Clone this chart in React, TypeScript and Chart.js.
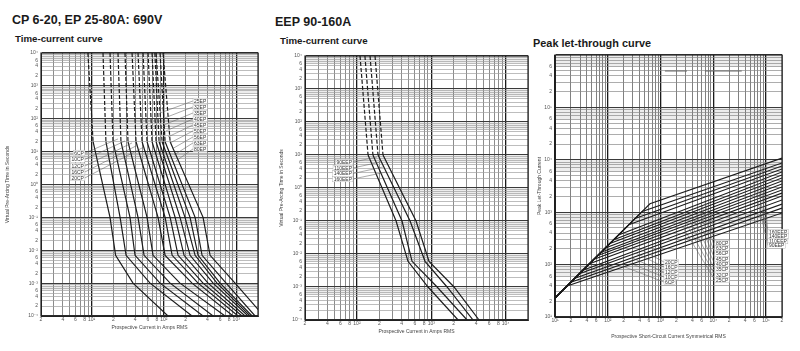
import React, { useEffect, useRef } from 'react';
import { Chart, registerables } from 'chart.js';

Chart.register(...registerables);

const FONT = "'Liberation Sans', Arial, Helvetica, sans-serif";

// ---------- Panel 1: CP 6-20, EP 25-80A time-current ----------
const P1_SERIES = ['6CP', '10CP', '12CP', '16CP', '20CP', '25EP', '32EP', '35EP', '40EP', '45EP', '50EP', '56EP', '63EP', '80EP'];
const P1_TIMES = [10000, 20, 0.1, 0.007, 0.001, 0.0001];
const P1_CURRENTS = [
  [8.9, 10.5, 18.0, 21.5, 37.4, 114],
  [14.4, 15.8, 24.8, 30.0, 64.4, 245],
  [18.0, 19.8, 34.0, 39.9, 88.5, 348],
  [23.2, 25.5, 43.9, 53.2, 122, 479],
  [29.0, 31.9, 58.5, 70.8, 167, 701],
  [36.3, 41.2, 83.0, 104, 245, 904],
  [43.9, 49.9, 104, 130, 297, 1061],
  [51.5, 58.5, 122, 157, 348, 1205],
  [60.4, 68.6, 143, 190, 408, 1327],
  [68.6, 78.0, 167, 230, 479, 1459],
  [75.0, 85.8, 196, 270, 543, 1556],
  [78.0, 94.4, 230, 297, 598, 1656],
  [88.5, 104, 270, 337, 724, 1824],
  [97.3, 122, 348, 435, 964, 2400],
];
const P1_CP_LABELS = ['6CP', '10CP', '12CP', '16CP', '20CP'];
const P1_CP_LABEL_AT: [number, number][] = [[8.1, 9.1], [8.1, 5.8], [8.1, 3.67], [8.1, 2.41], [8.1, 1.59]];
const P1_CP_LABEL_TO: [number, number][] = [[23.2, 24.3], [29.0, 21.1], [36.3, 18.4], [43.9, 16.0], [53.2, 13.9]];
const P1_EP_LABELS = ['25EP', '32EP', '35EP', '40EP', '45EP', '50EP', '56EP', '63EP', '80EP'];
const P1_EP_LABEL_AT: [number, number][] = [[253, 348], [253, 229], [253, 150], [253, 98.6], [253, 64.8], [253, 42.6], [253, 28.0], [253, 18.4], [253, 12.1]];
const P1_EP_LABEL_TO: [number, number][] = [[88.5, 150], [94.4, 98.6], [100.5, 64.8], [107, 42.6], [114, 28.0], [122, 18.4], [130, 12.1], [138.5, 7.94], [147, 5.22]];

// ---------- Panel 2: EEP 90-160A time-current ----------
const P2_SERIES = ['90EEP', '110EEP', '140EEP', '160EEP'];
const P2_TIMES = [10000, 10, 0.1, 0.006, 0.001, 0.0001];
const P2_CURRENTS = [
  [110, 141, 336, 486, 904, 2292],
  [128, 164, 404, 551, 1197, 3029],
  [150, 192, 518, 824, 1630, 3648],
  [175, 224, 624, 933, 2024, 4394],
];
const P2_LABELS = ['90EEP', '110EEP', '140EEP', '160EEP'];
const P2_LABEL_AT: [number, number][] = [[88.5, 6.1], [88.5, 4.04], [88.5, 2.75], [88.5, 1.87]];
const P2_LABEL_TO: [number, number][] = [[186, 8.7], [204, 6.1], [224, 4.33], [246, 3.05]];

// ---------- Panel 3: peak let-through ----------
const P3_SERIES = ['6CP', '10CP', '12CP', '16CP', '20CP', '25CP', '32CP', '35CP', '40CP', '45CP', '56CP', '63CP', '80CP', '90EEP', '110EEP', '140EEP', '160EEP'];
const P3_ORIGIN = [10, 23];
const P3_KNEE_CURRENT = [17, 20, 24, 29, 34, 45, 55, 65, 75, 90, 110, 130, 160, 250, 330, 450, 630];
const P3_KNEE_PEAK = [39, 46, 55, 67, 78, 104, 127, 150, 173, 207, 253, 299, 368, 575, 759, 1035, 1449];
const P3_END_CURRENT = 200000;
const P3_END_PEAK = [966, 1200, 1430, 1710, 2040, 2320, 2650, 3030, 3450, 3940, 4500, 5130, 5850, 6670, 7620, 8690, 10800];
const P3_MARK_CURRENTS = [1210, 3170, 6920, 34500];
const P3_MARK_PEAK = 495000;
const P3_CP_LABELS = ['20CP', '16CP', '12CP', '10CP', '6CP'];
const P3_CP_LABEL_AT: [number, number][] = [[1160, 112], [1160, 90], [1160, 72], [1160, 58], [1160, 46.6]];
const P3_CP_LABEL_TO_CURRENT = [407, 342, 287, 241, 203];
const P3_EP_LABELS = ['80CP', '63CP', '56CP', '45CP', '40CP', '35CP', '32CP', '25CP'];
const P3_EP_LABEL_AT: [number, number][] = [[10700, 258], [10700, 205], [10700, 162], [10700, 128], [10700, 102], [10700, 80.6], [10700, 63.8], [10700, 50.8]];
const P3_EP_LABEL_TO_CURRENT = [6930, 6080, 5330, 4680, 4110, 3600, 3160, 2770];
const P3_EEP_LABELS = ['160EEP', '140EEP', '110EEP', '90EEP'];
const P3_EEP_LABEL_AT: [number, number][] = [[108000, 419], [108000, 344], [108000, 282], [108000, 232]];
const P3_EEP_LABEL_TO_CURRENT = [83200, 73100, 64100, 56200];

// tick label mantissas
const TC_X_MANTISSAS = [2, 4, 6, 8];
const TC_Y_MANTISSAS = [2, 4, 6];
const PL_X_MANTISSAS = [2, 4, 6];
const PL_Y_MANTISSAS = [2, 4, 6];

const SUP: Record<string, string> = { '0': '⁰', '1': '¹', '2': '²', '3': '³', '4': '⁴', '5': '⁵', '6': '⁶', '7': '⁷', '8': '⁸', '9': '⁹', '-': '⁻' };
const sup = (n: number) => String(n).split('').map((c) => SUP[c] || c).join('');
const clean = (v: number) => parseFloat(v.toPrecision(10));

function logTicks(min: number, max: number): number[] {
  const out: number[] = [];
  for (let e = Math.floor(Math.log10(min)); e <= Math.ceil(Math.log10(max)); e++) {
    for (let m = 1; m <= 9; m++) {
      const v = clean(m * Math.pow(10, e));
      if (v >= min * 0.999999 && v <= max * 1.000001) out.push(v);
    }
  }
  return out;
}
const isDecade = (v: number) => {
  const l = Math.log10(v);
  return Math.abs(l - Math.round(l)) < 1e-6;
};

interface AxisSpec {
  min: number;
  max: number;
  mantissas: number[];
  hideMax: boolean;
  size: number;
  title: string;
  titlePad: { top: number; bottom: number };
  tickPad: number;
  minorColor: string;
  minorWidth: number;
  majorColor: string;
  majorWidth: number;
}

function makeAxis(spec: AxisSpec, horizontal: boolean): any {
  return {
    type: 'logarithmic',
    min: spec.min,
    max: spec.max,
    afterBuildTicks: (s: any) => {
      s.ticks = logTicks(spec.min, spec.max).map((v) => ({ value: v }));
    },
    afterFit: (s: any) => {
      if (horizontal) s.height = spec.size;
      else s.width = spec.size;
    },
    ticks: {
      autoSkip: false,
      maxRotation: 0,
      minRotation: 0,
      padding: spec.tickPad,
      font: { family: FONT, size: 5 },
      color: '#555',
      callback: (v: any) => {
        const val = Number(v);
        if (spec.hideMax && Math.abs(val - spec.max) / spec.max < 1e-6) return '';
        const e = Math.floor(Math.log10(val) + 1e-9);
        const m = Math.round(val / Math.pow(10, e));
        if (m === 1) return '10' + sup(e);
        return spec.mantissas.includes(m) ? String(m) : '';
      },
    },
    grid: {
      drawTicks: false,
      color: (c: any) => (c.tick && isDecade(c.tick.value) ? spec.majorColor : spec.minorColor),
      lineWidth: (c: any) => (c.tick && isDecade(c.tick.value) ? spec.majorWidth : spec.minorWidth),
    },
    border: { display: true, color: '#222', width: 1 },
    title: {
      display: true,
      text: spec.title,
      font: { family: FONT, size: 5 },
      color: '#444',
      padding: spec.titlePad,
    },
  };
}

interface LabelGroup {
  texts: string[];
  at: [number, number][];
  to: [number, number][];
  align: 'left' | 'right';
}

function makePlugins(groups: LabelGroup[], bandScale: 'y' | null) {
  const frame = {
    id: 'frame',
    beforeDatasetsDraw(chart: any) {
      const { ctx, chartArea: a } = chart;
      ctx.save();
      ctx.strokeStyle = '#222';
      ctx.lineWidth = 1.2;
      ctx.strokeRect(a.left, a.top, a.right - a.left, a.bottom - a.top);
      ctx.restore();
    },
    beforeDraw(chart: any) {
      // light grey shading just below each horizontal decade line
      if (!bandScale) return;
      const { ctx, chartArea: a, scales } = chart;
      const ys = scales.y;
      ctx.save();
      ctx.fillStyle = 'rgba(0,0,0,0.07)';
      for (const t of ys.ticks) {
        if (!isDecade(t.value)) continue;
        const top = ys.getPixelForValue(t.value);
        const bottom = ys.getPixelForValue(t.value * 0.6);
        if (bottom > a.bottom + 0.5) continue;
        ctx.fillRect(a.left, top, a.right - a.left, bottom - top);
      }
      ctx.restore();
    },
  };
  const leaders = {
    id: 'leaders',
    afterDatasetsDraw(chart: any) {
      const { ctx, scales } = chart;
      const xs = scales.x;
      const ys = scales.y;
      ctx.save();
      ctx.font = `5px ${FONT}`;
      ctx.textBaseline = 'middle';
      for (const g of groups) {
        g.texts.forEach((text, i) => {
          const ax = xs.getPixelForValue(g.at[i][0]);
          const ay = ys.getPixelForValue(g.at[i][1]);
          const tx = xs.getPixelForValue(g.to[i][0]);
          const ty = ys.getPixelForValue(g.to[i][1]);
          ctx.strokeStyle = '#555';
          ctx.lineWidth = 0.5;
          ctx.beginPath();
          ctx.moveTo(ax, ay);
          ctx.lineTo(tx, ty);
          ctx.stroke();
        });
        g.texts.forEach((text, i) => {
          const ax = xs.getPixelForValue(g.at[i][0]);
          const ay = ys.getPixelForValue(g.at[i][1]);
          const w = ctx.measureText(text).width + 2;
          const bx = g.align === 'right' ? ax - w : ax;
          ctx.fillStyle = '#fff';
          ctx.fillRect(bx, ay - 2.8, w, 5.6);
          ctx.strokeStyle = '#aaa';
          ctx.lineWidth = 0.4;
          ctx.strokeRect(bx, ay - 2.8, w, 5.6);
          ctx.fillStyle = '#333';
          ctx.textAlign = 'left';
          ctx.fillText(text, bx + 1, ay + 0.3);
        });
      }
      ctx.restore();
    },
  };
  return [frame, leaders];
}

function logInterp(points: { x: number; y: number }[], xv: number): number {
  for (let i = 0; i < points.length - 1; i++) {
    const p = points[i];
    const q = points[i + 1];
    if (xv >= p.x && xv <= q.x) {
      const f = (Math.log10(xv) - Math.log10(p.x)) / (Math.log10(q.x) - Math.log10(p.x));
      return Math.pow(10, Math.log10(p.y) + f * (Math.log10(q.y) - Math.log10(p.y)));
    }
  }
  return points[points.length - 1].y;
}

const CURVE_COLOR = '#1c1c1c';

function tcDatasets(names: string[], times: number[], currents: number[][]) {
  return names.map((name, i) => ({
    label: name,
    data: currents[i].map((c, j) => ({ x: c, y: times[j] })),
    borderColor: CURVE_COLOR,
    borderWidth: 1.2,
    pointRadius: 0,
    fill: false,
    tension: 0,
    segment: { borderDash: (c: any) => (c.p0DataIndex === 0 ? [4, 2] : undefined) },
  }));
}

const P3_CURVES = P3_SERIES.map((_, i) => [
  { x: P3_ORIGIN[0], y: P3_ORIGIN[1] },
  { x: P3_KNEE_CURRENT[i], y: P3_KNEE_PEAK[i] },
  { x: P3_END_CURRENT, y: P3_END_PEAK[i] },
]);

function tcAxes(xMin: number, xMax: number, ySize: number, xSize: number, yTitlePad: number, xTitlePad: number) {
  return {
    x: makeAxis(
      {
        min: xMin, max: xMax, mantissas: TC_X_MANTISSAS, hideMax: true, size: xSize,
        title: 'Prospective Current in Amps RMS', titlePad: { top: 0, bottom: xTitlePad }, tickPad: 1,
        minorColor: '#5a5a5a', minorWidth: 0.7, majorColor: '#1a1a1a', majorWidth: 1.3,
      },
      true
    ),
    y: makeAxis(
      {
        min: 0.0001, max: 10000, mantissas: TC_Y_MANTISSAS, hideMax: false, size: ySize,
        title: 'Virtual Pre-Arcing Time in Seconds', titlePad: { top: yTitlePad, bottom: 0 }, tickPad: 3,
        minorColor: '#a0a0a0', minorWidth: 0.7, majorColor: '#3a3a3a', majorWidth: 1.1,
      },
      false
    ),
  };
}

function baseOptions(padTop: number, padRight: number, scales: any) {
  return {
    animation: false,
    responsive: false,
    maintainAspectRatio: false,
    events: [],
    layout: { padding: { left: 0, top: padTop, right: padRight, bottom: 0 } },
    plugins: { legend: { display: false }, tooltip: { enabled: false }, title: { display: false } },
    scales,
  };
}

function useChart(ref: React.RefObject<HTMLCanvasElement>, build: () => any) {
  useEffect(() => {
    if (!ref.current) return;
    const chart = new Chart(ref.current, build());
    return () => chart.destroy();
  }, []);
}

function Panel1() {
  const ref = useRef<HTMLCanvasElement>(null);
  useChart(ref, () => ({
    type: 'line',
    data: { datasets: tcDatasets(P1_SERIES, P1_TIMES, P1_CURRENTS) },
    options: baseOptions(9, 10, tcAxes(2, 2000, 41, 28, 5, 13)),
    plugins: makePlugins(
      [
        { texts: P1_CP_LABELS, at: P1_CP_LABEL_AT, to: P1_CP_LABEL_TO, align: 'right' },
        { texts: P1_EP_LABELS, at: P1_EP_LABEL_AT, to: P1_EP_LABEL_TO, align: 'left' },
      ],
      'y'
    ),
  }));
  return <canvas ref={ref} width={268} height={300} style={{ width: 268, height: 300, display: 'block' }} />;
}

function Panel2() {
  const ref = useRef<HTMLCanvasElement>(null);
  useChart(ref, () => ({
    type: 'line',
    data: { datasets: tcDatasets(P2_SERIES, P2_TIMES, P2_CURRENTS) },
    options: baseOptions(12, 10, tcAxes(20, 20000, 33, 24, 7, 9)),
    plugins: makePlugins([{ texts: P2_LABELS, at: P2_LABEL_AT, to: P2_LABEL_TO, align: 'right' }], 'y'),
  }));
  return <canvas ref={ref} width={266} height={300} style={{ width: 266, height: 300, display: 'block' }} />;
}

function Panel3() {
  const ref = useRef<HTMLCanvasElement>(null);
  useChart(ref, () => {
    const target = (names: string[], currents: number[]): [number, number][] =>
      names.map((n, i) => {
        const idx = P3_SERIES.indexOf(n);
        return [currents[i], logInterp(P3_CURVES[idx], currents[i])];
      });
    const datasets: any[] = P3_SERIES.map((name, i) => ({
      label: name,
      data: P3_CURVES[i],
      borderColor: CURVE_COLOR,
      borderWidth: 1.1,
      pointRadius: 0,
      fill: false,
      tension: 0,
    }));
    datasets.push({
      label: 'marks',
      data: [
        { x: P3_MARK_CURRENTS[0], y: P3_MARK_PEAK },
        { x: P3_MARK_CURRENTS[1], y: P3_MARK_PEAK },
        { x: Math.sqrt(P3_MARK_CURRENTS[1] * P3_MARK_CURRENTS[2]), y: null },
        { x: P3_MARK_CURRENTS[2], y: P3_MARK_PEAK },
        { x: P3_MARK_CURRENTS[3], y: P3_MARK_PEAK },
      ],
      borderColor: '#666',
      borderWidth: 1,
      pointRadius: 0,
      fill: false,
      spanGaps: false,
    });
    return {
      type: 'line',
      data: { datasets },
      options: baseOptions(11, 18, {
        x: makeAxis(
          {
            min: 10, max: 200000, mantissas: PL_X_MANTISSAS, hideMax: false, size: 27,
            title: 'Prospective Short-Circuit Current Symmetrical RMS', titlePad: { top: 0, bottom: 4 }, tickPad: 1,
            minorColor: '#4a4a4a', minorWidth: 0.7, majorColor: '#1a1a1a', majorWidth: 1.3,
          },
          true
        ),
        y: makeAxis(
          {
            min: 10, max: 1000000, mantissas: PL_Y_MANTISSAS, hideMax: true, size: 25,
            title: 'Peak Let-Through Current', titlePad: { top: 7, bottom: 0 }, tickPad: 3,
            minorColor: '#8a8a8a', minorWidth: 0.7, majorColor: '#3a3a3a', majorWidth: 1.1,
          },
          false
        ),
      }),
      plugins: makePlugins(
        [
          { texts: P3_CP_LABELS, at: P3_CP_LABEL_AT, to: target(P3_CP_LABELS, P3_CP_LABEL_TO_CURRENT), align: 'left' },
          { texts: P3_EP_LABELS, at: P3_EP_LABEL_AT, to: target(P3_EP_LABELS, P3_EP_LABEL_TO_CURRENT), align: 'left' },
          { texts: P3_EEP_LABELS, at: P3_EEP_LABEL_AT, to: target(P3_EEP_LABELS, P3_EEP_LABEL_TO_CURRENT), align: 'left' },
        ],
        'y'
      ),
    };
  });
  return <canvas ref={ref} width={270} height={300} style={{ width: 270, height: 300, display: 'block' }} />;
}

const heading = (fs: number): React.CSSProperties => ({
  position: 'absolute',
  fontFamily: FONT,
  fontWeight: 'bold',
  fontSize: fs,
  lineHeight: `${fs}px`,
  color: '#1a1a1a',
  whiteSpace: 'nowrap',
});

export default function App() {
  return (
    <div style={{ position: 'absolute', left: 0, top: 0, width: 800, height: 351, background: '#fff', overflow: 'hidden' }}>
      <div style={{ ...heading(12.5), left: 12, top: 14 }}>CP 6-20, EP 25-80A: 690V</div>
      <div style={{ ...heading(12.5), left: 275, top: 15.8 }}>EEP 90-160A</div>
      <div style={{ ...heading(9.7), left: 15, top: 33.7 }}>Time-current curve</div>
      <div style={{ ...heading(9.7), left: 280, top: 36.4 }}>Time-current curve</div>
      <div style={{ ...heading(10.9), left: 533, top: 37.6 }}>Peak let-through curve</div>
      <div style={{ position: 'absolute', left: 0, top: 44 }}>
        <Panel1 />
      </div>
      <div style={{ position: 'absolute', left: 272, top: 44 }}>
        <Panel2 />
      </div>
      <div style={{ position: 'absolute', left: 530, top: 44 }}>
        <Panel3 />
      </div>
    </div>
  );
}
